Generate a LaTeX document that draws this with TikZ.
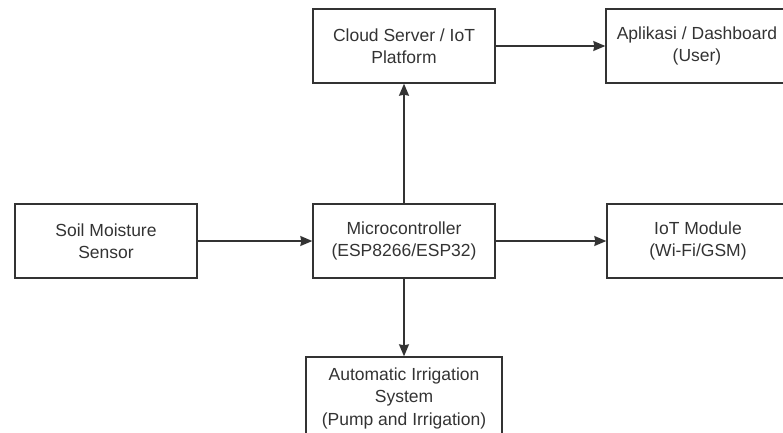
\documentclass[tikz,border=0pt]{standalone}
\usepackage{fontspec}
\setmainfont{Liberation Sans}
\usetikzlibrary{arrows.meta}
\definecolor{inkgrey}{HTML}{333333}
\begin{document}
\begin{tikzpicture}[x=1pt,y=-1pt]

      \useasboundingbox (0,0) rectangle (783,432);
      \clip (0,0) rectangle (783,432);

      \begin{scope}[every node/.style={rectangle, draw=inkgrey, line width=1.4pt,
          text=inkgrey, align=center, inner sep=0pt,
          minimum width=182pt, minimum height=74pt,
          font=\fontsize{17.5}{22.5}\selectfont}]
        \node (cloud)  at (404,46)  {Cloud Server / IoT\\Platform};
        \node (app)    at (697,46)  {Aplikasi / Dashboard\\(User)};
        \node (sensor) at (106,241) {Soil Moisture\\Sensor};
        \node (mcu)    at (404,241) {Microcontroller\\(ESP8266/ESP32)};
        \node (iot)    at (698,241) {IoT Module\\(Wi-Fi/GSM)};
        \node[minimum width=196pt, minimum height=82pt] (pump) at (404,398)
          {Automatic Irrigation\\System\\(Pump and Irrigation)};
      \end{scope}

      \begin{scope}[every edge/.style={draw=inkgrey, line width=1.4pt,
          -{Stealth[length=12pt,width=10pt,inset=1pt]}}]
        \path (sensor) edge (mcu);
        \path (mcu)    edge (iot);
        \path (mcu)    edge (cloud);
        \path (mcu)    edge (pump);
        \path (cloud)  edge (app);
      \end{scope}

    \end{tikzpicture}
\end{document}
